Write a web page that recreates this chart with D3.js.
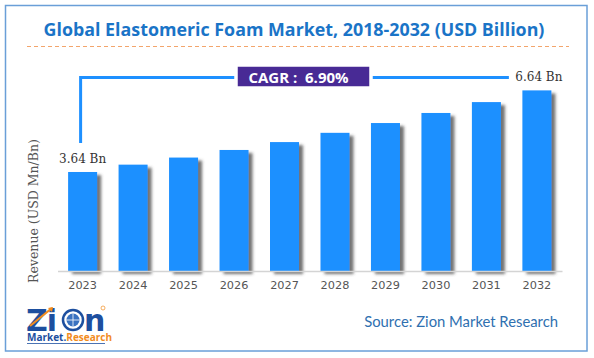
<!DOCTYPE html>
<html><head><meta charset="utf-8">
<script src="https://cdn.jsdelivr.net/npm/d3@7"></script>
<style>html,body{margin:0;padding:0;background:#fff;}svg{display:block;}</style>
</head><body>
<svg id="chart" width="594" height="358"></svg>
<script>
const years = ["2023","2024","2025","2026","2027","2028","2029","2030","2031","2032"];
const revenue = [3.64, 3.91, 4.17, 4.45, 4.74, 5.08, 5.44, 5.81, 6.21, 6.64];
const valueLabels = ["3.64 Bn", "6.64 Bn"];
const titleText = "Global Elastomeric Foam Market, 2018-2032 (USD Billion)";
const cagrText = "CAGR : \u00a06.90%";
const yTitle = "Revenue (USD Mn/Bn)";
const sourceText = "Source: Zion Market Research";

const svg = d3.select("#chart");
const defs = svg.append("defs");
const f = defs.append("filter").attr("id","shadow").attr("x","-20%").attr("y","-10%").attr("width","160%").attr("height","130%");
f.append("feDropShadow").attr("dx",4).attr("dy",3).attr("stdDeviation",1.6).attr("flood-color","#444").attr("flood-opacity",0.75);

// border
svg.append("rect").attr("x",5.5).attr("y",5.5).attr("width",581.5).attr("height",345.5)
  .attr("fill","none").attr("stroke","#6a9fd8").attr("stroke-width",1.5);

// title
const title = svg.append("text").attr("x",294).attr("y",36).attr("text-anchor","middle")
  .attr("font-family","Open Sans, sans-serif").attr("font-weight","bold").attr("font-size",18)
  .attr("fill","#1a74c7").text(titleText);
const tl = title.node().getComputedTextLength();
if (tl > 0) title.attr("font-size", 18 * 501 / tl);

svg.append("line").attr("x1",27).attr("x2",569).attr("y1",46.5).attr("y2",46.5)
  .attr("stroke","#f3a56c").attr("stroke-width",1.2).attr("stroke-dasharray","4,3");

// scales
const x = d3.scaleBand().domain(years).range([57.5,562]).paddingInner(0.425).paddingOuter(0.21);
const y = d3.scaleLinear().domain([0,7]).range([271, 271 - 7*27.2]);

// bars
svg.append("g").selectAll("rect").data(years).join("rect")
  .attr("x", d => x(d)).attr("width", x.bandwidth())
  .attr("y", (d,i) => y(revenue[i])).attr("height", (d,i) => y(0) - y(revenue[i]))
  .attr("fill","#1e90ff").attr("filter","url(#shadow)");

// x axis
const xAxis = svg.append("g").attr("transform",`translate(0,${y(0)})`)
  .call(d3.axisBottom(x).tickSize(0).tickPadding(10));
xAxis.select(".domain").attr("stroke","#d4d4d4").attr("stroke-width",1.5);
xAxis.selectAll("text").attr("font-family","DejaVu Sans, Verdana, sans-serif").attr("font-size",11.3).attr("fill","#555");

// y title
svg.append("text").attr("transform",`translate(38,211) rotate(-90)`).attr("text-anchor","middle")
  .attr("font-family","DejaVu Serif, serif").attr("font-size",12.5).attr("fill","#555").text(yTitle);

// value labels
const first = years[0], last = years[years.length-1];
svg.append("text").attr("x", x(first)+x.bandwidth()/2).attr("y", y(revenue[0]) - 9)
  .attr("text-anchor","middle").attr("font-family","DejaVu Serif, serif").attr("font-size",12).attr("fill","#333").text(valueLabels[0]);
svg.append("text").attr("x", x(last)+x.bandwidth()/2 + 2).attr("y", y(revenue[revenue.length-1]) - 9)
  .attr("text-anchor","middle").attr("font-family","DejaVu Serif, serif").attr("font-size",12).attr("fill","#333").text(valueLabels[1]);

// CAGR connector
const lx = x(first) + x.bandwidth()/2 - 2;
const ly = 77.5;
svg.append("path").attr("d", `M${lx},${y(revenue[0]) - 29} V${ly} H${x(last) - 13.5}`)
  .attr("fill","none").attr("stroke","#1e90ff").attr("stroke-width",3);
svg.append("rect").attr("x",236).attr("y",65).attr("width",135).attr("height",23)
  .attr("fill","#482a95").attr("stroke","#fff").attr("stroke-width",3.5);
svg.append("text").attr("x",298.5).attr("y",82.5).attr("text-anchor","middle")
  .attr("font-family","Open Sans, sans-serif").attr("font-weight","bold").attr("font-size",15)
  .attr("fill","#fff").text(cagrText);

// source
const src = svg.append("text").attr("x",558).attr("y",327).attr("text-anchor","end")
  .attr("font-family","Lato, sans-serif").attr("font-size",15).attr("fill","#2f70b0").text(sourceText);
const sl = src.node().getComputedTextLength();
if (sl > 0) src.attr("font-size", 15 * 194 / sl);

// logo
const logo = svg.append("g");
logo.append("text").attr("x",26).attr("y",331).attr("font-family","DejaVu Sans, sans-serif").attr("font-weight","bold")
  .attr("font-size",30).attr("fill","#1d4f9f").attr("letter-spacing",-1).text("Zi");
logo.append("path").attr("d","M30,326 L52,308").attr("stroke","#f28c1e").attr("stroke-width",2.2);
logo.append("path").attr("d","M48,308 L53,307 L52,312 Z").attr("fill","#f28c1e");
logo.append("circle").attr("cx",73).attr("cy",320).attr("r",10).attr("fill","#fff").attr("stroke","#1d4f9f").attr("stroke-width",2.5);
logo.append("circle").attr("cx",73).attr("cy",320).attr("r",6.5).attr("fill","#3a72c0");
logo.append("path").attr("d","M66.5,320 H79.5 M73,313.5 V326.5").attr("stroke","#fff").attr("stroke-width",0.8);
logo.append("text").attr("x",84).attr("y",331).attr("font-family","DejaVu Sans, sans-serif").attr("font-weight","bold")
  .attr("font-size",30).attr("fill","#1d4f9f").text("n");
logo.append("circle").attr("cx",103).attr("cy",308).attr("r",2).attr("fill","none").attr("stroke","#f28c1e").attr("stroke-width",0.7);
const mr = logo.append("text").attr("x",27).attr("y",341).attr("font-family","Open Sans, sans-serif").attr("font-weight","bold")
  .attr("font-size",10);
mr.append("tspan").attr("fill","#1d4f9f").text("Market.");
mr.append("tspan").attr("fill","#f28c1e").text("Research");
logo.append("line").attr("x1",27).attr("x2",105).attr("y1",343.5).attr("y2",343.5).attr("stroke","#1d4f9f").attr("stroke-width",0.8);
</script>
</body></html>
